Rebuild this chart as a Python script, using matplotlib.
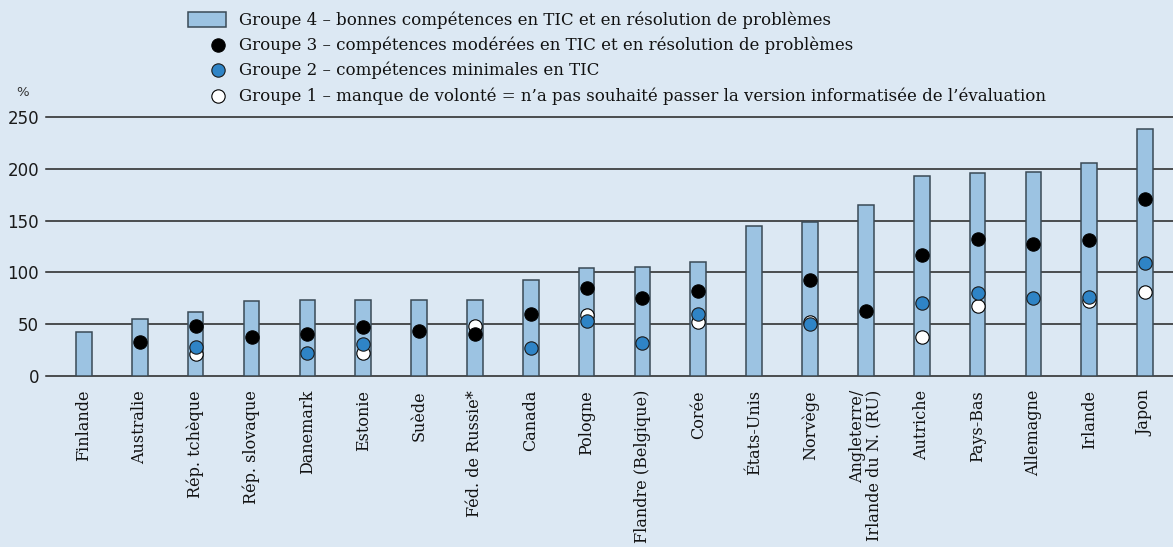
import numpy as np
import matplotlib
matplotlib.use("Agg")
import matplotlib.pyplot as plt
from matplotlib.patches import Rectangle
from matplotlib.lines import Line2D

nan = np.nan
categories = ["Finlande", "Australie", "Rép. tchèque", "Rép. slovaque", "Danemark",
              "Estonie", "Suède", "Féd. de Russie*", "Canada", "Pologne",
              "Flandre (Belgique)", "Corée", "États-Unis", "Norvège",
              "Angleterre/\nIrlande du N. (RU)", "Autriche", "Pays-Bas",
              "Allemagne", "Irlande", "Japon"]
groupe4 = [42, 55, 62, 72, 73, 73, 73, 73, 93, 104, 105, 110, 145, 149, 165, 193, 196, 197, 206, 238]
groupe3 = [nan, 33, 48, 38, 41, 47, 43, 41, 60, 85, 75, 82, nan, 93, 63, 117, 132, 127, 131, 171]
groupe2 = [nan, nan, 28, nan, 22, 31, nan, nan, 27, 53, 32, 60, nan, 50, nan, 70, 80, 75, 76, 109]
groupe1 = [nan, nan, 21, nan, nan, 22, nan, 48, nan, 59, nan, 52, nan, 52, nan, 38, 68, nan, 72, 81]
yticks = [0, 50, 100, 150, 200, 250]
legend_labels = [
    "Groupe 4 – bonnes compétences en TIC et en résolution de problèmes",
    "Groupe 3 – compétences modérées en TIC et en résolution de problèmes",
    "Groupe 2 – compétences minimales en TIC",
    "Groupe 1 – manque de volonté = n’a pas souhaité passer la version informatisée de l’évaluation",
]

BG = "#dce8f3"
BAR = "#9cc3e2"
BAREDGE = "#3a4a56"
BLUE = "#2f84c6"

W, H = 1173, 547
fig = plt.figure(figsize=(W / 100, H / 100), dpi=100, facecolor=BG)
ax = fig.add_axes([46 / W, 1 - 376 / H, 1 - 46 / W, (376 - 117) / H])
ax.set_facecolor(BG)

x = np.arange(len(categories))
for yv in yticks:
    ax.axhline(yv, color="#222222", lw=1.1, zorder=1, clip_on=False)
ax.bar(x, groupe4, width=0.28, color=BAR, edgecolor=BAREDGE, linewidth=1.1, zorder=2)
ms = 9.6
ax.plot(x, groupe1, "o", ls="none", ms=ms, mfc="white", mec="black", mew=0.8, zorder=3, clip_on=False)
ax.plot(x, groupe2, "o", ls="none", ms=ms, mfc=BLUE, mec="#1a1a1a", mew=0.8, zorder=4, clip_on=False)
ax.plot(x, groupe3, "o", ls="none", ms=ms, mfc="black", mec="black", mew=0.8, zorder=5, clip_on=False)

ax.set_xlim(-0.68, len(categories) - 0.5)
ax.set_ylim(0, 250)
ax.set_yticks(yticks)
ax.set_yticklabels([str(v) for v in yticks], fontsize=12, family="DejaVu Sans", color="#1a1a1a")
ax.tick_params(axis="y", length=0, pad=5)
ax.set_xticks(x)
ax.set_xticklabels(categories, rotation=90, fontsize=11.5, family="DejaVu Serif",
                   va="top", ha="center", multialignment="right", color="#111111",
                   linespacing=1.0)
ax.tick_params(axis="x", length=0, pad=10)
for s in ax.spines.values():
    s.set_visible(False)

fig.text(23 / W, 1 - 92 / H, "%", fontsize=9.5, family="DejaVu Sans", ha="center", va="center", color="#333333")

# legend
rows = [20, 45, 70, 96]
fig.add_artist(Rectangle((188 / W, 1 - 27 / H), 38 / W, 15 / H, transform=fig.transFigure,
                         facecolor=BAR, edgecolor=BAREDGE, lw=1.1))
styles = [None, ("black", "black"), (BLUE, "#1a1a1a"), ("white", "black")]
for r, st in zip(rows, styles):
    if st is not None:
        fig.add_artist(Line2D([218 / W], [1 - r / H], marker="o", ms=9.6, mfc=st[0], mec=st[1],
                              mew=0.8, transform=fig.transFigure, ls="none"))
for r, lab in zip(rows, legend_labels):
    fig.text(239 / W, 1 - r / H, lab, fontsize=12, family="DejaVu Serif", ha="left", va="center",
             color="#111111")

fig.savefig("out.png", dpi=100, facecolor=BG)
